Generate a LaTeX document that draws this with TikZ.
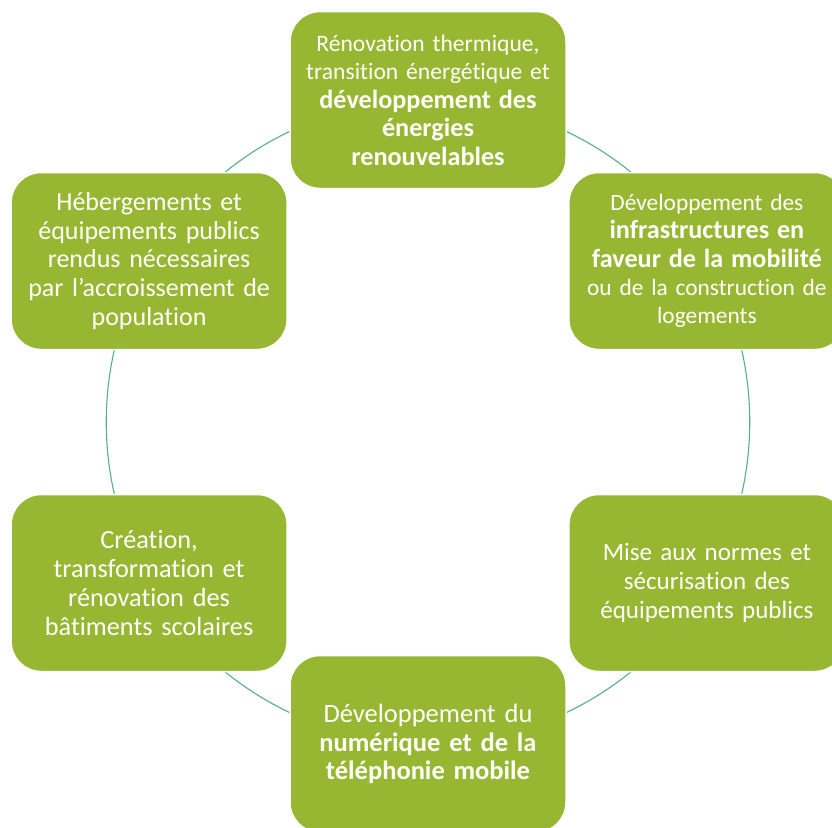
\documentclass[tikz,border=0pt]{standalone}
\usepackage{fontspec}
\setmainfont[Ligatures=NoCommon]{Carlito}
\definecolor{vertolive}{RGB}{151,183,51}
\definecolor{vertarc}{RGB}{86,176,132}
\usetikzlibrary{backgrounds}
\newcommand{\gras}[1]{{\fontsize{26.2}{28.5}\selectfont\bfseries #1}}

\begin{document}
\begin{tikzpicture}[x=1pt, y=1pt, thin]
  \tikzstyle{etape}=[rectangle, rounded corners=30pt, fill=vertolive, draw=white, line width=1.5pt,
    minimum width=276pt, minimum height=177pt, text width=272pt, align=center, inner sep=0pt,
    text=white, font=\fontsize{26}{28.7}\selectfont]
  \tikzstyle{lien}=[draw=vertarc, line width=1.1pt, bend left=30, looseness=0.91]

  \useasboundingbox (0,0) rectangle (832,-827);
  \clip (0,0) rectangle (832,-827);

  \node[etape, font=\fontsize{23.6}{28.5}\selectfont] (RENO) at (428,-100) {R\'enovation thermique,\\
    transition \'energ\'etique et\\ \gras{d\'eveloppement des}\\ \gras{\'energies}\\ \gras{renouvelables}};
  \node[etape, font=\fontsize{23.4}{28.2}\selectfont] (MOBI) at (706.9,-261) {D\'eveloppement des\\
    \gras{infrastructures en}\\ \gras{faveur de la mobilit\'e}\\ ou de la construction de\\ logements};
  \node[etape, font=\fontsize{25}{29}\selectfont] (NORM) at (706.9,-583) {Mise aux normes et\\
    s\'ecurisation des\\ \'equipements publics};
  \node[etape, font=\fontsize{26.5}{28.5}\selectfont] (NUME) at (428,-744) {D\'eveloppement du\\
    \textbf{num\'erique et de la}\\ \textbf{t\'el\'ephonie mobile}};
  \node[etape, font=\fontsize{26.3}{29}\selectfont] (SCOL) at (149.1,-583) {Cr\'eation,\\ transformation et\\
    r\'enovation des\\ b\^atiments scolaires};
  \node[etape] (HEBE) at (149.1,-261) {H\'ebergements et\\ \'equipements publics\\ rendus n\'ecessaires\\
    par l’accroissement de\\ population};

  \begin{pgfonlayer}{background}
  \path
    (RENO.center) edge [lien] (MOBI.center)
    (MOBI.center) edge [lien] (NORM.center)
    (NORM.center) edge [lien] (NUME.center)
    (NUME.center) edge [lien] (SCOL.center)
    (SCOL.center) edge [lien] (HEBE.center)
    (HEBE.center) edge [lien] (RENO.center)
  ;
  \end{pgfonlayer}

\end{tikzpicture}
\end{document}
